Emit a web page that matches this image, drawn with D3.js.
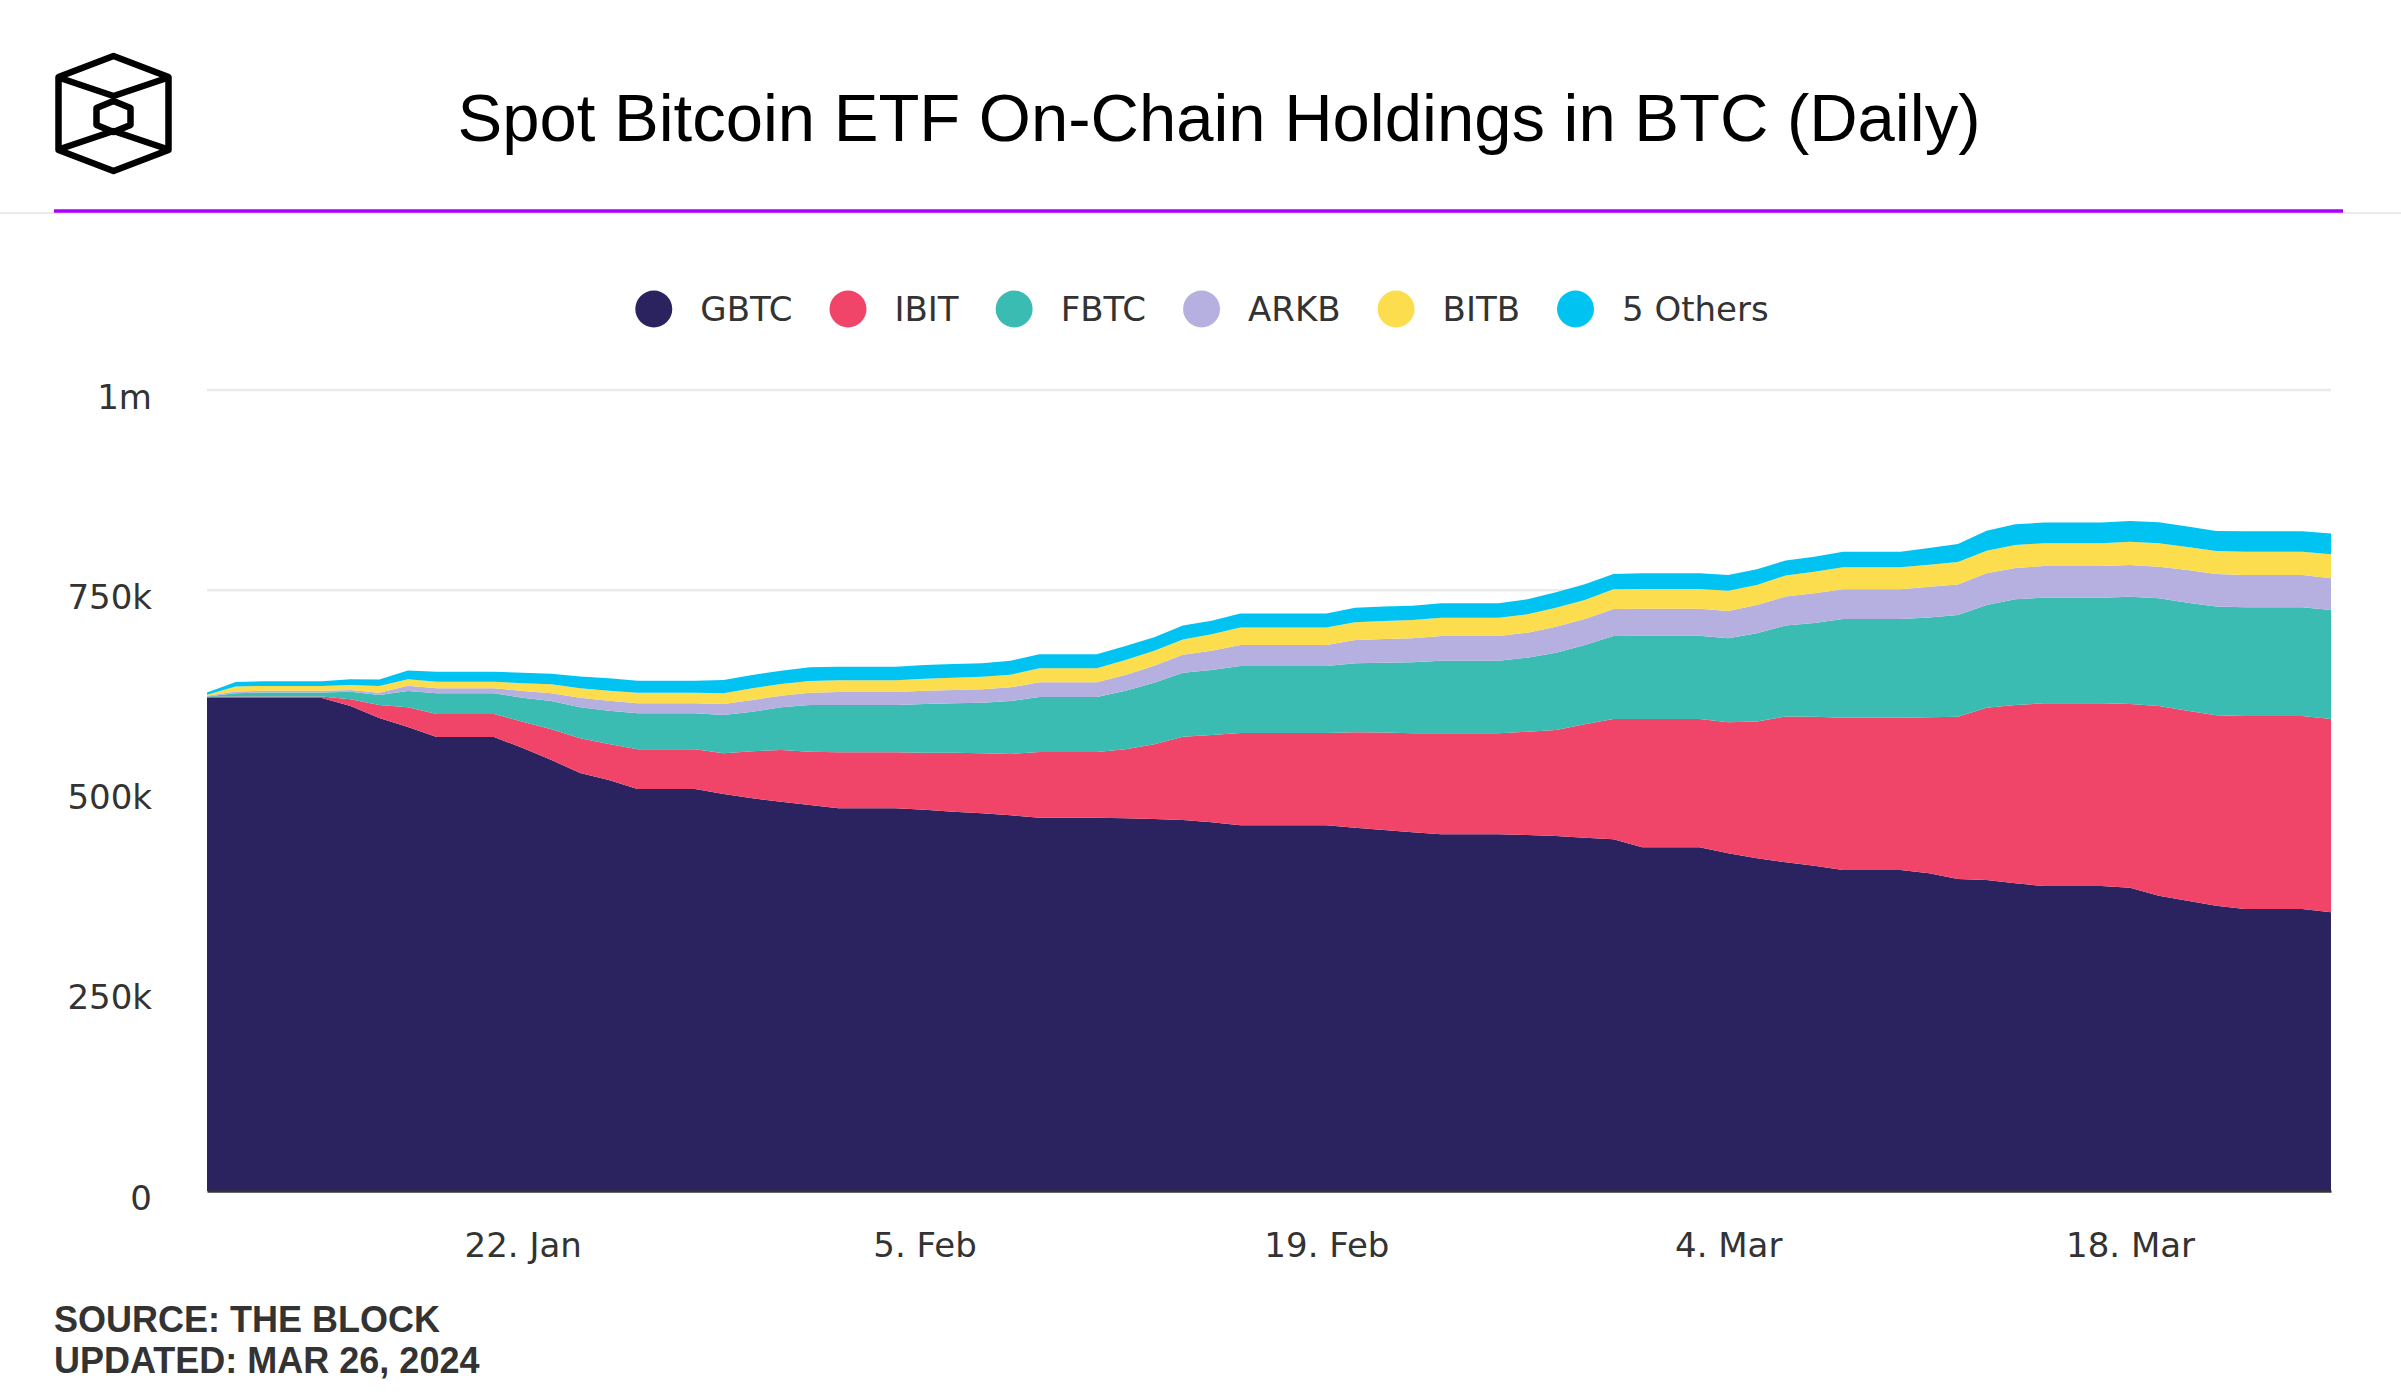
<!DOCTYPE html>
<html><head><meta charset="utf-8">
<script src="https://cdn.jsdelivr.net/npm/d3@7"></script>
<style>html,body{margin:0;padding:0;background:#fff;} svg{display:block;}</style>
</head><body>
<svg id="chart" width="2401" height="1400"></svg>
<script>
// ---------- DATA (thousand BTC, daily 11 Jan – 25 Mar 2024) ----------
const seriesNames  = ["GBTC", "IBIT", "FBTC", "ARKB", "BITB", "5 Others"];
const seriesColors = ["#2b2360", "#f04468", "#3bbcb2", "#b6b0e0", "#fcdd4d", "#00c3f2"];
const startDate = new Date(2024, 0, 11);
const endDate   = new Date(2024, 2, 25);

const gbtc = [615.5,615.5,615.5,615.5,615.5,605.5,590.5,579.3,566.8,566.8,
  566.8,553,538,521.8,513,502,502,502,495.6,490.3,
  486,481.9,477.8,477.8,477.8,476,473.5,471.5,469,466,
  466,466,465.3,464.4,463.2,460.3,456.5,456.5,456.5,456.5,
  453.6,450.7,447.8,445.3,445.3,445.3,444.4,443.2,441.1,439.1,
  429.1,429.1,429.1,421.6,415.4,410.5,406.1,400.7,400.7,400.7,
  396.6,389.5,388.3,384.1,380.8,380.8,380.8,378.7,368.7,362.4,
  356.2,352,352,352,347.9];
const ibit = [1.5,1.8,1.8,1.8,1.8,8.3,16.2,24.6,28.7,28.7,
  28.7,32.9,38.4,43.4,45,49.4,49.4,49.4,50.8,58.6,
  64.6,66.6,69.9,69.9,69.9,71.2,73.7,74.9,76.6,82.1,
  82.1,82.1,86.1,93.2,104,109,115.2,115.2,115.2,115.2,
  119.2,121.7,123.8,126.3,126.3,126.3,129,132.3,141.5,150.2,
  160.2,160.2,160.2,163.5,170.6,181.9,186.1,190.2,190.2,190.2,
  194.8,202.7,215.1,222.6,228,228,228,229.3,236.8,237.2,
  237.7,241,241,241,241.4];
const fbtc = [0.5,4.2,5,5,5,9.6,12.5,20.3,25.8,25.8,
  25.8,30,35.3,38.7,41.6,45,45,45,47.9,49.5,
  53.3,58.2,59,59,59,60.8,61.6,63.2,66.1,68.6,
  68.6,68.6,73.2,77,79.9,81.1,83.7,83.7,83.7,83.7,
  86,87.2,88.5,90.5,90.5,90.5,92.4,96.6,99,103.6,
  104,104,104,104.9,110.3,113.6,116.9,123.2,123.2,123.2,
  124.7,126.9,128.2,132,131.9,131.9,131.9,134,134.5,134.9,
  135.7,135.7,135.7,135.7,136];
const arkb = [0.9,2.1,2.1,2.1,2.1,2.1,2.9,6.6,6.3,6.3,
  6.3,8.3,9.6,12,12.5,12.4,12.4,12.4,13.7,14.6,
  14.5,15.4,16.3,16.3,16.3,16.6,16.7,16.7,17.1,18.4,
  18.4,18.4,19.6,21.2,22.5,24.2,26.2,26.2,26.2,26.2,
  29.1,29.5,29.9,30.8,30.8,30.8,31.2,32.4,32.5,33.7,
  33.7,33.7,33.7,34.1,35.3,36.2,37.1,37.1,37.1,37.1,
  38.3,38,39.6,39,39.6,39.6,39.6,39.5,39.4,40.8,
  40.7,40.3,40.3,40.3,39.6];
const bitb = [1.2,6.2,6.2,6.2,6.2,6.2,8.5,8.2,8.3,8.3,
  8.3,9.6,11.3,11.7,12.5,13.3,13.3,13.3,13.3,14.6,
  14.6,14.6,14.6,14.6,14.6,15,15.4,15.8,15.8,17.5,
  17.5,17.5,18.7,18.8,18.8,20.5,22,22,22,22,
  22.1,22.5,22.9,22.8,22.8,22.8,23,23.8,23.7,24.6,
  24.6,24.6,24.6,25.4,25,26.2,27,27.5,27.5,27.5,
  27.5,28.2,28,28.8,28.5,28.5,28.5,29,29.2,28.6,
  28.7,29.1,29.1,29.1,30];
const others = [2.9,5.8,5.8,5.8,5.8,7.1,8,10.8,12.4,12.4,
  12.4,13.3,13,14.6,15.4,15,15,15,16.6,16.6,
  16.6,17.1,17,17,17,17.1,17,16.8,17.5,17.4,
  17.4,17.4,17.5,16.8,17.5,16.9,17.3,17.3,17.3,17.3,
  18.3,18,17.6,18.1,18.1,18.1,18.7,19.1,19.6,19.1,
  19.6,19.6,19.6,19.5,19.6,18.8,18.7,19.4,19.4,19.4,
  20.9,22.5,25,25.8,25.7,25.7,25.7,25.9,26.2,25.7,
  25,25.5,25.5,25.5,25.8];

const yTickValues = [0, 250, 500, 750, 1000];
const yTickLabels = ["0", "250k", "500k", "750k", "1m"];
const xTickDates  = ["2024-01-22", "2024-02-05", "2024-02-19", "2024-03-04", "2024-03-18"];
const xTickLabels = ["22. Jan", "5. Feb", "19. Feb", "4. Mar", "18. Mar"];

const titleText = "Spot Bitcoin ETF On-Chain Holdings in BTC (Daily)";
const footerLines = ["SOURCE: THE BLOCK", "UPDATED: MAR 26, 2024"];

// ---------- BUILD ----------
const dates = d3.timeDay.range(startDate, d3.timeDay.offset(endDate, 1));
const valueArrays = [gbtc, ibit, fbtc, arkb, bitb, others];
const rows = dates.map((d, i) => {
  const r = {date: d};
  seriesNames.forEach((n, k) => r[n] = valueArrays[k][i]);
  return r;
});

const svg = d3.select("#chart");
const W = 2401;

// header rules
svg.append("line").attr("x1", 0).attr("x2", W).attr("y1", 213).attr("y2", 213)
  .attr("stroke", "#e4e4e4").attr("stroke-width", 1.5);
svg.append("line").attr("x1", 54).attr("x2", 2343).attr("y1", 211).attr("y2", 211)
  .attr("stroke", "#aa00ff").attr("stroke-width", 3.5);

// logo
const logo = svg.append("g").attr("fill", "none").attr("stroke", "#000")
  .attr("stroke-width", 6.5).attr("stroke-linejoin", "round").attr("stroke-linecap", "round");
logo.append("polygon").attr("points", "113.5,56 168.5,77 168.5,150 113.5,171 58.5,150 58.5,77");
logo.append("polyline").attr("points", "60,78 113.5,96 167,78");
logo.append("polyline").attr("points", "60,149 113.5,131 167,149");
logo.append("polygon").attr("points", "113.5,101 130.5,108 130.5,125 113.5,132 96.5,125 96.5,108");

// title
svg.append("text").attr("x", 1219).attr("y", 141).attr("text-anchor", "middle")
  .attr("font-family", "Liberation Sans, Arial, sans-serif").attr("font-size", 67)
  .attr("fill", "#000").text(titleText);

// scales
const x = d3.scaleTime().domain([dates[0], dates[dates.length - 1]]).range([207, 2331]);
const y = d3.scaleLinear().domain([0, 1000]).range([1191, 390]);

// gridlines
svg.append("g").selectAll("line").data(yTickValues.filter(v => v > 0)).join("line")
  .attr("x1", 207).attr("x2", 2331).attr("y1", d => y(d)).attr("y2", d => y(d))
  .attr("stroke", "#ebebeb").attr("stroke-width", 2.5);

// stacked areas
const stack = d3.stack().keys(seriesNames)(rows);
const area = d3.area().x(d => x(d.data.date)).y0(d => y(d[0])).y1(d => y(d[1]));
svg.append("g").selectAll("path").data(stack).join("path")
  .attr("d", area).attr("fill", (d, i) => seriesColors[i]);

// x axis
const parse = d3.timeParse("%Y-%m-%d");
const xAxis = svg.append("g").attr("transform", "translate(0,1191)")
  .call(d3.axisBottom(x).tickValues(xTickDates.map(parse))
    .tickFormat((d, i) => xTickLabels[i]).tickSize(0).tickPadding(42));
xAxis.select(".domain").attr("stroke", "#333").attr("stroke-width", 2.5);
xAxis.selectAll("text").attr("font-family", "DejaVu Sans, sans-serif")
  .attr("font-size", 34).attr("fill", "#333");

// y axis
const yAxis = svg.append("g").attr("transform", "translate(207,0)")
  .call(d3.axisLeft(y).tickValues(yTickValues)
    .tickFormat((d, i) => yTickLabels[i]).tickSize(0).tickPadding(55));
yAxis.select(".domain").remove();
yAxis.selectAll("text").attr("font-family", "DejaVu Sans, sans-serif")
  .attr("font-size", 34).attr("fill", "#333").attr("dy", 18);

// legend
const legend = svg.append("g");
const legendY = 309, r = 18.5, gapIn = 28, gapOut = 37;
const items = seriesNames.map((n, i) => {
  const g = legend.append("g");
  g.append("circle").attr("cx", r).attr("cy", legendY).attr("r", r).attr("fill", seriesColors[i]);
  const t = g.append("text").attr("x", 2 * r + gapIn).attr("y", legendY + 12)
    .attr("font-family", "DejaVu Sans, sans-serif").attr("font-size", 34)
    .attr("fill", "#333").text(n);
  return {g, w: 2 * r + gapIn + t.node().getComputedTextLength()};
});
const totalW = d3.sum(items, d => d.w) + gapOut * (items.length - 1);
let cx = 1202 - totalW / 2;
items.forEach(it => { it.g.attr("transform", `translate(${cx},0)`); cx += it.w + gapOut; });

// footer
svg.append("g").selectAll("text").data(footerLines).join("text")
  .attr("x", 54).attr("y", (d, i) => 1332 + i * 41)
  .attr("font-family", "Liberation Sans, Arial, sans-serif").attr("font-weight", "bold")
  .attr("font-size", 36).attr("fill", "#333").text(d => d);
</script>
</body></html>
